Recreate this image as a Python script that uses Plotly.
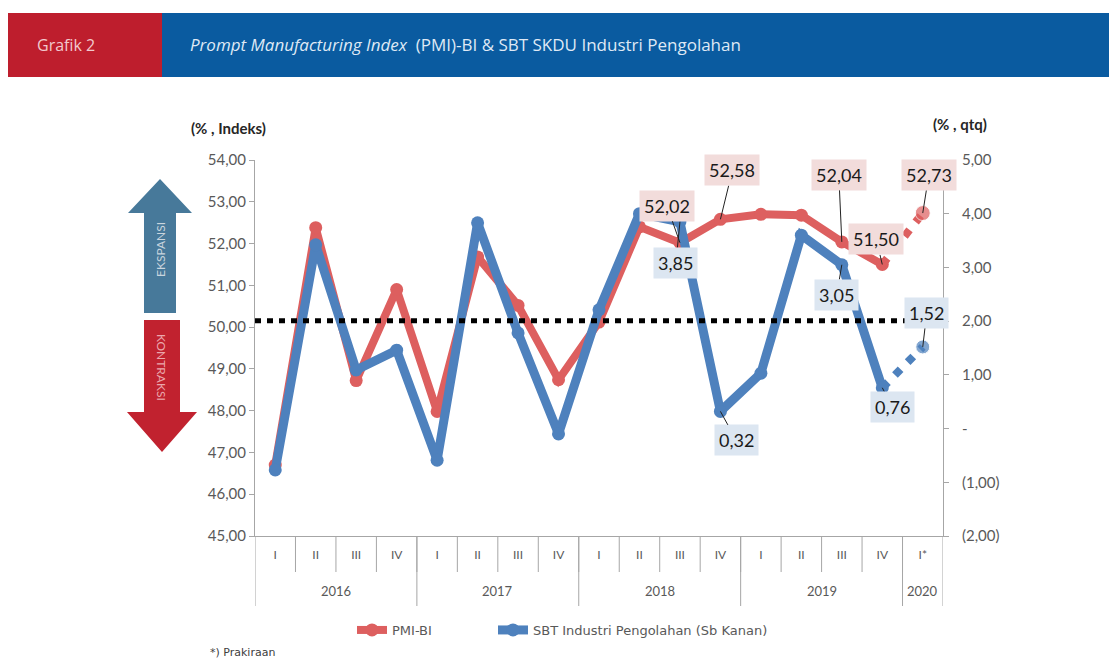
import plotly.graph_objects as go

# ---------------- data ----------------
QUARTERS = ["I", "II", "III", "IV", "I", "II", "III", "IV", "I", "II", "III", "IV",
            "I", "II", "III", "IV", "I*"]
YEARS = ["2016", "2017", "2018", "2019", "2020"]
YEAR_SIZES = [4, 4, 4, 4, 1]
PMI = [46.70, 52.38, 48.72, 50.90, 47.98, 51.68, 50.52, 48.74, 50.12, 52.40, 52.02,
       52.58, 52.70, 52.68, 52.04, 51.50, 52.73]
SBT = [-0.77, 3.42, 1.09, 1.46, -0.59, 3.83, 1.78, -0.10, 2.21, 4.00, 3.85,
       0.32, 1.03, 3.60, 3.05, 0.76, 1.52]
FORECAST_FROM = 15            # 2019 IV -> 2020 I* drawn as forecast
PMI_LABELS = [10, 11, 14, 15, 16]
SBT_LABELS = [10, 11, 14, 15, 16]
THRESHOLD = 50.15
LEFT_TICKS = [45, 46, 47, 48, 49, 50, 51, 52, 53, 54]
RIGHT_TICKS = [-2, -1, 0, 1, 2, 3, 4, 5]

# ---------------- styling / layout ----------------
# page body has an 8px margin: positions below are screen pixels
OFF = 8
W, H = 1117 - 2 * OFF, 669 - 2 * OFF
PL, PR, PT, PB = 255, 943, 160, 536
RED = "#dd5f5f"
BLUE = "#4e81bd"
GRAY = "#595959"
FONT = "Lato"


def px(x):
    return (x - PL) / (PR - PL)


def py(y):
    return (PB - y) / (PB - PT)


def fmt(v):
    if abs(v) < 1e-9:
        return "-"
    s = f"{abs(v):.2f}".replace(".", ",")
    return f"({s})" if v < 0 else s


n = len(QUARTERS)
xs = list(range(n))
pmi_main = [v if i <= FORECAST_FROM else None for i, v in enumerate(PMI)]
pmi_fc = [v if i >= FORECAST_FROM else None for i, v in enumerate(PMI)]
sbt_main = [v if i <= FORECAST_FROM else None for i, v in enumerate(SBT)]
sbt_fc = [v if i >= FORECAST_FROM else None for i, v in enumerate(SBT)]

fig = go.Figure()
fig.add_trace(go.Scatter(x=xs, y=pmi_main, name="PMI-BI", mode="lines+markers",
                         line=dict(color=RED, width=8), marker=dict(size=13, color=RED),
                         yaxis="y", legend="legend"))
fig.add_trace(go.Scatter(x=xs, y=pmi_fc, showlegend=False, mode="lines+markers",
                         line=dict(color=RED, width=8, dash="8px,10px"),
                         marker=dict(size=[0] * 16 + [15], color=RED), yaxis="y"))
fig.add_trace(go.Scatter(x=xs, y=sbt_main, name="SBT Industri Pengolahan (Sb Kanan)",
                         mode="lines+markers",
                         line=dict(color=BLUE, width=9), marker=dict(size=13, color=BLUE),
                         yaxis="y2", legend="legend2"))
fig.add_trace(go.Scatter(x=xs, y=sbt_fc, showlegend=False, mode="lines+markers",
                         line=dict(color=BLUE, width=8, dash="8px,10px"),
                         marker=dict(size=[0] * 16 + [14], color=BLUE), yaxis="y2"))

shapes = []
# header
shapes.append(dict(type="rect", xref="paper", yref="paper", x0=px(8), x1=px(162),
                   y0=py(77), y1=py(13), fillcolor="#be1e2d", line=dict(width=0), layer="below"))
shapes.append(dict(type="rect", xref="paper", yref="paper", x0=px(162), x1=px(1120),
                   y0=py(77), y1=py(13), fillcolor="#0a5ba0", line=dict(width=0), layer="below"))


def poly(pts):
    return "M " + " L ".join(f"{px(a):.5f},{py(b):.5f}" for a, b in pts) + " Z"


# expansion arrow (up)
shapes.append(dict(type="path", xref="paper", yref="paper", layer="below",
                   path=poly([(160, 179), (192, 213), (176, 213), (176, 313),
                              (144, 313), (144, 213), (128, 213)]),
                   fillcolor="#47799a", line=dict(width=0)))
# contraction arrow (down)
shapes.append(dict(type="path", xref="paper", yref="paper", layer="below",
                   path=poly([(144, 320), (180, 320), (180, 412), (197, 412),
                              (162, 452), (127, 412), (144, 412)]),
                   fillcolor="#c1222f", line=dict(width=0)))
# threshold dotted line
shapes.append(dict(type="line", xref="paper", yref="y", x0=0, x1=0.995,
                   y0=THRESHOLD, y1=THRESHOLD, layer="above",
                   line=dict(color="black", width=5, dash="6px,6px")))
# category separators
for i in range(n - 1):
    shapes.append(dict(type="line", xref="x", yref="paper", x0=i + 0.5, x1=i + 0.5,
                       y0=0, y1=py(572), line=dict(color="#a6a6a6", width=1)))
bounds = [-0.5]
for s in YEAR_SIZES:
    bounds.append(bounds[-1] + s)
for b in bounds:
    shapes.append(dict(type="line", xref="x", yref="paper", x0=b, x1=b,
                       y0=0, y1=py(606), line=dict(color="#a6a6a6", width=1)))

ann = []
# header texts
ann.append(dict(text="Grafik 2", xref="paper", yref="paper", x=px(35), y=py(45),
                xanchor="left", yanchor="middle", showarrow=False,
                font=dict(family="Open Sans", size=16, color="#f2c9cd")))
ann.append(dict(text="<i>Prompt Manufacturing Index</i>  (PMI)-BI &amp; SBT SKDU Industri Pengolahan",
                xref="paper", yref="paper", x=px(188), y=py(45),
                xanchor="left", yanchor="middle", showarrow=False,
                font=dict(family="Open Sans", size=17, color="#dfe9f5")))
# axis titles
ann.append(dict(text="<b>(% , Indeks)</b>", xref="paper", yref="paper", x=px(228), y=py(128),
                xanchor="center", yanchor="middle", showarrow=False,
                font=dict(family=FONT, size=15, color="#262626")))
ann.append(dict(text="<b>(% , qtq)</b>", xref="paper", yref="paper", x=px(960), y=py(124),
                xanchor="center", yanchor="middle", showarrow=False,
                font=dict(family=FONT, size=15, color="#262626")))
# arrow texts
ann.append(dict(text="EKSPANSI", xref="paper", yref="paper", x=px(160), y=py(250),
                xanchor="center", yanchor="middle", showarrow=False, textangle=-90,
                font=dict(family=FONT, size=12, color="#c9d5de")))
ann.append(dict(text="KONTRAKSI", xref="paper", yref="paper", x=px(162), y=py(367),
                xanchor="center", yanchor="middle", showarrow=False, textangle=90,
                font=dict(family=FONT, size=12, color="#eba7ad")))
# year labels
start = 0
for yr, s in zip(YEARS, YEAR_SIZES):
    ann.append(dict(text=yr, xref="x", yref="paper", x=start + (s - 1) / 2, y=py(591),
                    xanchor="center", yanchor="middle",
                    showarrow=False, font=dict(family=FONT, size=13, color=GRAY)))
    start += s
# footnote
ann.append(dict(text="*) Prakiraan", xref="paper", yref="paper", x=px(208), y=py(652),
                xanchor="left", yanchor="middle", showarrow=False,
                font=dict(family="DejaVu Sans", size=11, color="#404040")))

# data labels
pmi_off = {10: (-13, -37), 11: (12, -49), 14: (-3, -67), 15: (-6, -25), 16: (6, -38)}
sbt_off = {10: (-4, 41), 11: (16, 29), 14: (-5, 30), 15: (10, 19), 16: (4, -34)}
for i in PMI_LABELS:
    ax, ay = pmi_off[i]
    ann.append(dict(text=fmt(PMI[i]), xref="x", yref="y", x=i, y=PMI[i], ax=ax, ay=ay,
                    showarrow=True, arrowhead=0, arrowwidth=1, arrowcolor="#222",
                    bgcolor="#f2dcdb", borderpad=4, standoff=0,
                    font=dict(family=FONT, size=18, color="#1a1a1a")))
for i in SBT_LABELS:
    ax, ay = sbt_off[i]
    ann.append(dict(text=fmt(SBT[i]), xref="x", yref="y2", x=i, y=SBT[i], ax=ax, ay=ay,
                    showarrow=True, arrowhead=0, arrowwidth=1, arrowcolor="#222",
                    bgcolor="#dce6f1", borderpad=4, standoff=0,
                    font=dict(family=FONT, size=18, color="#1a1a1a")))

legend_common = dict(orientation="h", yanchor="middle", y=py(630), xanchor="left",
                     font=dict(family="DejaVu Sans", size=13, color=GRAY),
                     bgcolor="rgba(0,0,0,0)", borderwidth=0)

fig.update_layout(
    width=W, height=H,
    margin=dict(l=PL - OFF, r=W - (PR - OFF), t=PT - OFF, b=H - (PB - OFF), pad=0),
    paper_bgcolor="white", plot_bgcolor="white",
    separators=",.",
    font=dict(family=FONT, color=GRAY),
    shapes=shapes, annotations=ann,
    showlegend=True,
    legend=dict(x=px(352), **legend_common),
    legend2=dict(x=px(493), **legend_common),
    xaxis=dict(range=[-0.5, n - 0.5], tickvals=xs, ticktext=QUARTERS, showline=True,
               linecolor="#a6a6a6", linewidth=1, ticks="", showgrid=False, zeroline=False,
               ticklabelstandoff=8, tickfont=dict(family=FONT, size=12, color=GRAY)),
    yaxis=dict(range=[45, 54], tickvals=LEFT_TICKS, tickformat=".2f", showline=True,
               linecolor="#a6a6a6", linewidth=1, ticks="outside", ticklen=5,
               tickcolor="#a6a6a6", showgrid=False, zeroline=False,
               tickfont=dict(family=FONT, size=15, color=GRAY)),
    yaxis2=dict(range=[-2, 5], tickvals=RIGHT_TICKS, ticktext=[fmt(v) for v in RIGHT_TICKS],
                overlaying="y", side="right", showline=True, linecolor="#a6a6a6",
                linewidth=1, ticks="outside", ticklen=5, tickcolor="#a6a6a6",
                showgrid=False, zeroline=False, ticklabelstandoff=10,
                tickfont=dict(family=FONT, size=15, color=GRAY)),
)

fig.write_html("out.html")
